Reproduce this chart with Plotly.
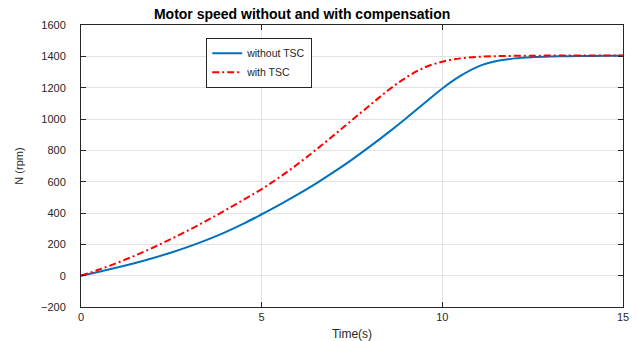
import plotly.graph_objects as go

time_s = [0, 0.5, 1, 1.5, 2, 2.5, 3, 3.5, 4, 4.5, 5, 5.5, 6, 6.5, 7, 7.5, 8, 8.5, 9, 9.5,
          10, 10.5, 11, 11.5, 12, 12.5, 13, 13.5, 14, 14.5, 15]
speed_without_tsc = [0, 25, 52, 81, 113, 148, 187, 230, 278, 332, 392, 454, 519, 588, 662, 741,
                     825, 913, 1005, 1100, 1195, 1275, 1336, 1370, 1387, 1395, 1399, 1401, 1402, 1403, 1403]
speed_with_tsc = [0, 39, 82, 129, 180, 235, 293, 354, 418, 484, 553, 629, 713, 803, 897, 993,
                  1089, 1183, 1265, 1328, 1366, 1387, 1397, 1401, 1403, 1404, 1405, 1405, 1405, 1405, 1405]
x_ticks = [0, 5, 10, 15]
y_ticks = [-200, 0, 200, 400, 600, 800, 1000, 1200, 1400, 1600]

FONT = "Liberation Sans, Arial, sans-serif"
AX = "#262626"

fig = go.Figure()
fig.add_trace(go.Scatter(x=time_s, y=speed_without_tsc, mode="lines", name="without TSC",
                         line=dict(color="#0072BD", width=2, shape="spline", smoothing=1)))
fig.add_trace(go.Scatter(x=time_s, y=speed_with_tsc, mode="lines", name="with TSC",
                         line=dict(color="#FF0000", width=2, dash="7px,3px,2px,3px",
                                   shape="spline", smoothing=1)))

axis_common = dict(showline=True, linecolor=AX, linewidth=1, mirror="ticks",
                   ticks="inside", ticklen=5, tickcolor=AX, tickwidth=1,
                   showgrid=True, gridcolor="#e3e3e3", gridwidth=1, zeroline=False,
                   automargin=False,
                   tickfont=dict(family=FONT, size=11, color=AX))

fig.update_xaxes(range=[0, 15], tickvals=x_ticks, ticklabelstandoff=0,
                 title=dict(text="Time(s)", font=dict(family=FONT, size=12, color=AX), standoff=10),
                 **axis_common)
fig.update_yaxes(range=[-200, 1600], tickvals=y_ticks, ticklabelstandoff=12,
                 title=dict(text="N (rpm)", font=dict(family=FONT, size=11, color=AX), standoff=15),
                 **axis_common)

fig.update_layout(
    width=636, height=341,
    margin=dict(l=81, r=13, t=25, b=34, autoexpand=False),
    paper_bgcolor="white", plot_bgcolor="white",
    title=dict(text="<b>Motor speed without and with compensation</b>",
               font=dict(family=FONT, size=14, color="black"),
               x=0.475, xanchor="center", y=0.958, yanchor="middle"),
    legend=dict(x=0.231, y=0.955, xanchor="left", yanchor="top",
                bgcolor="white", bordercolor=AX, borderwidth=1,
                font=dict(family=FONT, size=10.5, color=AX),
                tracegroupgap=0, itemwidth=30, entrywidth=150, entrywidthmode="pixels"),
    showlegend=True,
)

fig.write_html("out.html")
